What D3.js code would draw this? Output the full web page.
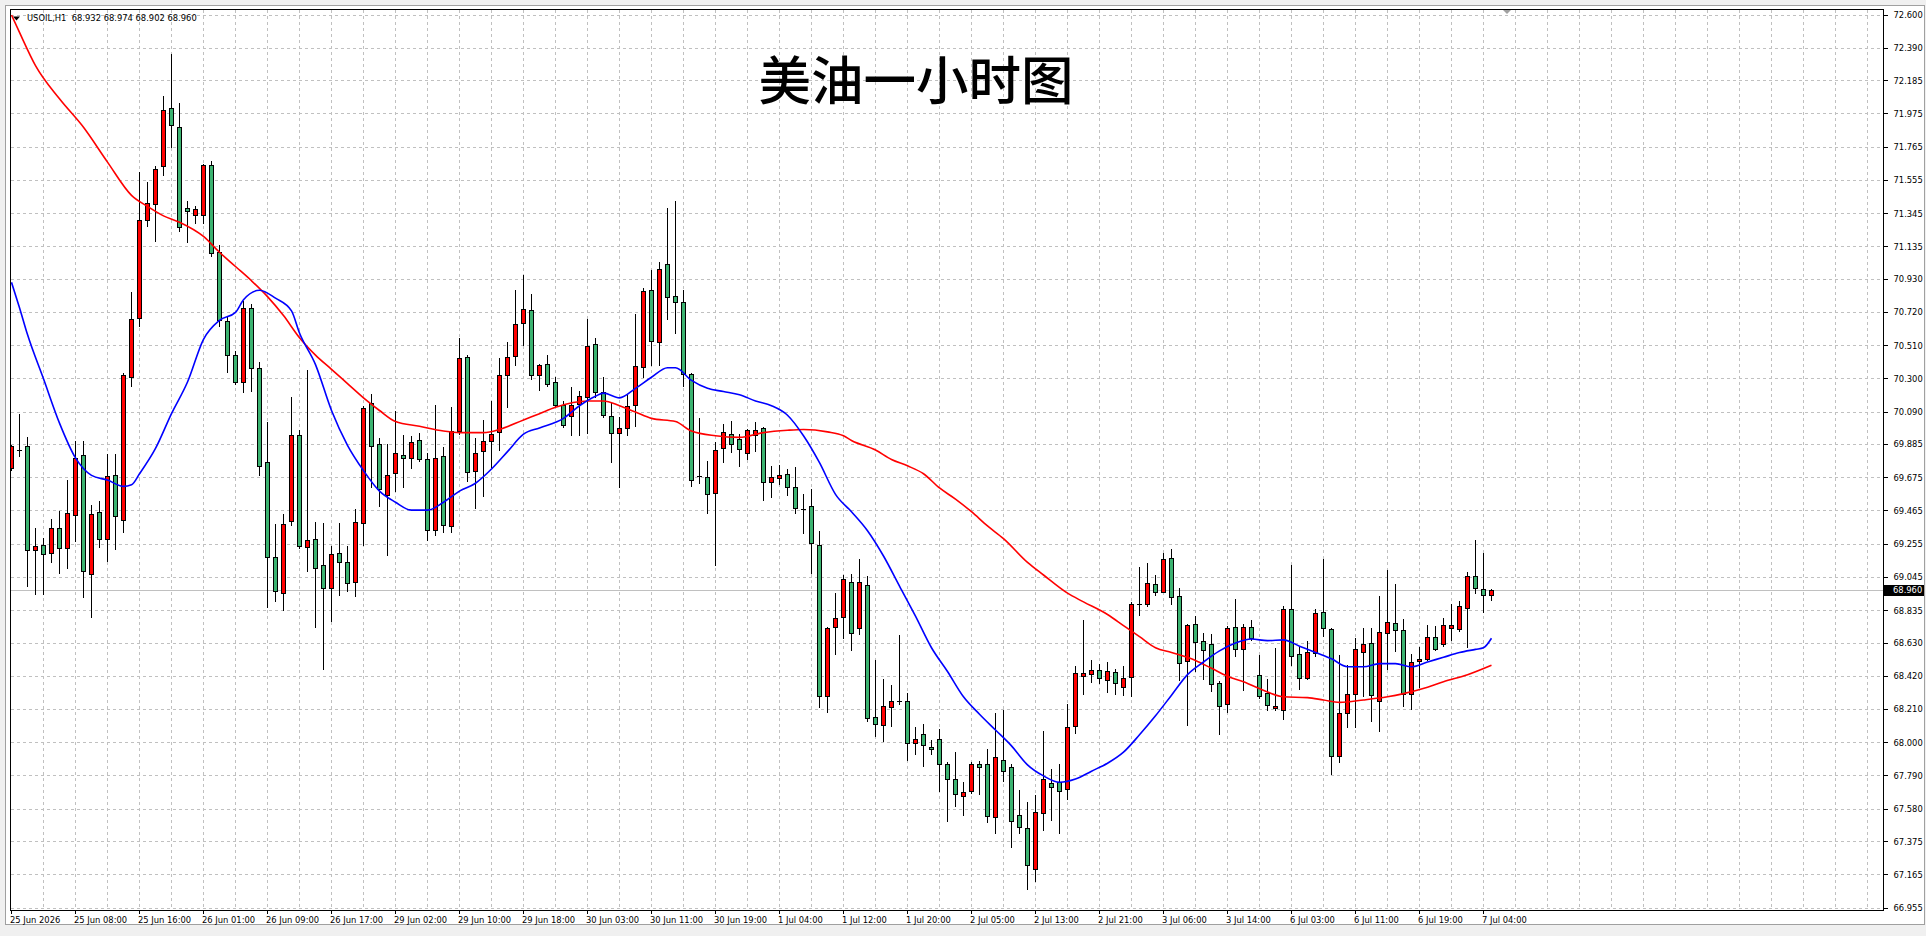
<!DOCTYPE html>
<html>
<head>
<meta charset="utf-8">
<script src="https://cdn.jsdelivr.net/npm/d3@7"></script>
<style>
  body { margin: 0; background: #f0f0f0; }
  #wrapper { width: 1926px; height: 936px; }
  .mt-text { font-family: "DejaVu Sans Condensed", "DejaVu Sans", sans-serif; font-stretch: condensed; font-size: 9.3px; }
</style>
</head>
<body>
<div id="wrapper"></div>
<script>
const symbolName = "USOIL,H1"
const chartTitle = "美油一小时图"

// hourly bars, 25 Jun 00:00 .. 7 Jul 05:00
const opens = [
  69.736, 69.850, 69.872, 69.215, 69.249, 69.199, 69.351, 69.226, 69.437, 69.815,
  69.063, 69.453, 69.285, 69.686, 69.403, 70.309, 70.682, 71.300, 71.402, 71.644,
  72.007, 71.887, 71.379, 71.334, 71.334, 71.647, 71.101, 70.664, 70.449, 70.279,
  70.746, 70.365, 69.770, 69.170, 68.946, 69.399, 69.945, 69.237, 69.287, 69.117,
  68.977, 69.199, 69.142, 69.015, 69.388, 70.141, 69.888, 69.561, 69.704, 69.818,
  69.799, 69.913, 69.788, 69.342, 69.806, 69.369, 69.969, 70.438, 69.713, 69.840,
  69.906, 69.958, 70.324, 70.444, 70.648, 70.732, 70.320, 70.388, 70.279, 70.134,
  70.060, 70.139, 70.184, 70.517, 70.211, 70.060, 69.953, 69.985, 70.132, 70.373,
  70.860, 70.532, 71.020, 70.820, 70.785, 70.329, 69.682, 69.676, 69.575, 69.859,
  69.949, 69.914, 69.830, 69.943, 69.987, 69.642, 69.673, 69.697, 69.613, 69.473,
  69.494, 69.247, 68.289, 68.725, 68.791, 69.015, 68.719, 68.992, 68.162, 68.109,
  68.225, 68.263, 68.261, 67.997, 68.052, 67.970, 68.018, 67.862, 67.767, 67.660,
  67.692, 67.862, 67.862, 67.527, 67.888, 67.843, 67.538, 67.458, 67.196, 67.555,
  67.740, 67.749, 67.706, 68.102, 68.418, 68.429, 68.456, 68.391, 68.444, 68.349,
  68.412, 68.872, 68.872, 69.002, 68.952, 69.167, 68.926, 68.513, 68.749, 68.642,
  68.619, 68.372, 68.244, 68.730, 68.591, 68.730, 68.423, 68.309, 68.218, 68.204,
  68.844, 68.560, 68.408, 68.566, 68.825, 68.713, 67.913, 68.187, 68.307, 68.572,
  68.629, 68.260, 68.692, 68.756, 68.707, 68.303, 68.513, 68.528, 68.667, 68.623,
  68.724, 68.718, 68.850, 69.051, 68.971, 68.932
]
const highs = [
  69.880, 70.080, 69.931, 69.360, 69.294, 69.414, 69.466, 69.663, 69.908, 69.908,
  69.505, 69.527, 69.822, 69.822, 70.336, 70.852, 71.606, 71.542, 71.644, 72.086,
  72.353, 72.041, 71.422, 71.395, 71.660, 71.674, 71.146, 70.693, 70.478, 70.795,
  70.773, 70.404, 70.026, 69.385, 69.445, 70.185, 69.974, 70.356, 69.395, 69.388,
  69.241, 69.388, 69.245, 69.477, 70.126, 70.206, 69.926, 69.890, 70.098, 69.947,
  69.936, 69.957, 69.833, 70.134, 69.867, 70.121, 70.558, 70.451, 69.924, 70.037,
  70.161, 70.433, 70.535, 70.863, 70.958, 70.834, 70.395, 70.449, 70.309, 70.161,
  70.247, 70.225, 70.678, 70.558, 70.309, 70.150, 70.060, 70.207, 70.709, 70.875,
  70.991, 71.040, 71.380, 71.423, 70.860, 70.338, 70.054, 69.781, 69.903, 70.016,
  70.033, 69.952, 69.981, 70.025, 69.996, 69.749, 69.758, 69.729, 69.740, 69.575,
  69.604, 69.337, 68.733, 68.945, 69.061, 69.067, 69.160, 69.053, 68.521, 68.400,
  68.362, 68.680, 68.311, 68.102, 68.117, 68.018, 68.086, 67.881, 67.944, 67.749,
  67.875, 67.885, 67.963, 68.187, 68.206, 67.864, 67.702, 67.622, 67.668, 68.075,
  67.833, 67.864, 68.244, 68.486, 68.775, 68.524, 68.497, 68.507, 68.465, 68.486,
  68.890, 69.108, 69.139, 69.061, 69.202, 69.226, 68.977, 68.751, 68.798, 68.692,
  68.686, 68.393, 68.735, 68.909, 68.749, 68.777, 68.555, 68.402, 68.598, 68.865,
  69.124, 68.608, 68.640, 68.844, 69.160, 68.724, 68.555, 68.492, 68.661, 68.728,
  68.728, 68.928, 69.093, 69.002, 68.783, 68.560, 68.608, 68.745, 68.739, 68.787,
  68.878, 68.893, 69.076, 69.282, 69.198, 68.974
]
const lows = [
  69.725, 69.810, 68.993, 68.943, 68.939, 69.143, 69.070, 69.104, 69.272, 68.921,
  68.796, 69.240, 69.149, 69.222, 69.335, 70.252, 70.632, 71.266, 71.169, 71.588,
  71.764, 71.237, 71.162, 71.282, 71.282, 71.078, 70.637, 70.343, 70.270, 70.218,
  70.223, 69.691, 68.860, 68.898, 68.841, 69.374, 69.228, 69.083, 68.729, 68.466,
  68.767, 68.931, 68.956, 68.925, 69.247, 69.614, 69.494, 69.184, 69.589, 69.614,
  69.736, 69.778, 69.283, 69.313, 69.335, 69.335, 69.950, 69.652, 69.482, 69.561,
  69.743, 69.849, 70.121, 70.388, 70.512, 70.302, 70.229, 70.252, 70.121, 69.998,
  69.946, 69.946, 69.958, 70.184, 70.060, 69.777, 69.618, 69.946, 70.003, 70.309,
  70.387, 70.387, 70.678, 70.590, 70.257, 69.624, 69.642, 69.453, 69.125, 69.772,
  69.839, 69.749, 69.793, 69.842, 69.537, 69.555, 69.636, 69.566, 69.450, 69.328,
  69.073, 68.225, 68.191, 68.559, 68.661, 68.588, 68.690, 68.138, 68.043, 68.008,
  68.105, 68.244, 67.892, 67.928, 67.854, 67.928, 67.692, 67.506, 67.601, 67.544,
  67.681, 67.675, 67.496, 67.432, 67.755, 67.342, 67.432, 67.078, 67.127, 67.449,
  67.513, 67.426, 67.643, 68.060, 68.307, 68.385, 68.376, 68.322, 68.307, 68.301,
  68.296, 68.808, 68.865, 68.935, 68.952, 68.876, 68.397, 68.113, 68.456, 68.402,
  68.328, 68.056, 68.191, 68.545, 68.334, 68.650, 68.282, 68.208, 68.204, 68.151,
  68.492, 68.338, 68.402, 68.545, 68.676, 67.803, 67.881, 68.098, 68.098, 68.296,
  68.140, 68.077, 68.465, 68.577, 68.235, 68.212, 68.355, 68.524, 68.587, 68.612,
  68.646, 68.703, 68.608, 68.945, 68.829, 68.902
]
const closes = [
  69.874, 69.850, 69.215, 69.242, 69.192, 69.351, 69.229, 69.446, 69.795, 69.082,
  69.441, 69.285, 69.681, 69.432, 70.320, 70.675, 71.302, 71.411, 71.626, 71.995,
  71.900, 71.259, 71.361, 71.373, 71.647, 71.094, 70.666, 70.449, 70.275, 70.746,
  70.365, 69.747, 69.172, 68.955, 69.382, 69.945, 69.243, 69.281, 69.104, 68.977,
  69.192, 69.142, 69.009, 69.395, 70.115, 69.875, 69.603, 69.692, 69.825, 69.799,
  69.900, 69.793, 69.340, 69.795, 69.376, 69.969, 70.429, 69.709, 69.826, 69.901,
  69.946, 70.324, 70.438, 70.641, 70.739, 70.320, 70.383, 70.263, 70.132, 70.003,
  70.134, 70.189, 70.506, 70.213, 70.066, 69.953, 69.985, 70.127, 70.381, 70.852,
  70.538, 70.994, 70.817, 70.785, 70.329, 69.656, 69.682, 69.572, 69.850, 69.958,
  69.888, 69.856, 69.972, 69.972, 69.642, 69.676, 69.688, 69.610, 69.482, 69.473,
  69.256, 68.292, 68.719, 68.783, 69.029, 68.690, 69.015, 68.153, 68.115, 68.231,
  68.263, 68.263, 67.997, 68.018, 67.982, 67.957, 67.862, 67.767, 67.673, 67.685,
  67.862, 67.843, 67.534, 67.906, 67.818, 67.502, 67.464, 67.224, 67.559, 67.770,
  67.717, 67.692, 68.096, 68.437, 68.437, 68.456, 68.406, 68.450, 68.374, 68.406,
  68.872, 68.872, 69.006, 68.952, 69.160, 68.920, 68.503, 68.743, 68.636, 68.583,
  68.370, 68.229, 68.724, 68.591, 68.730, 68.661, 68.292, 68.235, 68.231, 68.840,
  68.545, 68.408, 68.572, 68.819, 68.724, 67.913, 68.187, 68.307, 68.587, 68.623,
  68.296, 68.699, 68.762, 68.709, 68.307, 68.509, 68.528, 68.667, 68.591, 68.743,
  68.743, 68.861, 69.051, 68.977, 68.928, 68.960
]

// moving averages: [bar index, price]
const maFast = [
  [0, 70.91], [1, 70.75], [2, 70.58], [4, 70.30], [6, 70.02], [8, 69.80], [10, 69.69],
  [12, 69.66], [14, 69.62], [15, 69.63], [16, 69.70], [18, 69.86], [20, 70.08], [22, 70.28],
  [24, 70.55], [26, 70.67], [28, 70.72], [29, 70.80], [31, 70.86], [33, 70.81], [35, 70.73],
  [36, 70.59], [38, 70.39], [40, 70.10], [42, 69.88], [44, 69.72], [46, 69.59], [48, 69.52],
  [50, 69.47], [52, 69.47], [54, 69.52], [56, 69.59], [58, 69.64], [60, 69.73], [62, 69.84],
  [64, 69.95], [66, 69.99], [69, 70.05], [71, 70.13], [73, 70.19], [74, 70.21], [76, 70.18],
  [78, 70.24], [80, 70.31], [82, 70.37], [83, 70.37], [85, 70.29], [87, 70.24], [89, 70.22],
  [91, 70.20], [93, 70.16], [95, 70.13], [97, 70.07], [99, 69.94], [101, 69.77], [103, 69.57],
  [105, 69.46], [107, 69.34], [109, 69.18], [111, 68.99], [113, 68.80], [115, 68.60], [117, 68.45],
  [119, 68.29], [121, 68.18], [123, 68.08], [125, 67.98], [127, 67.86], [129, 67.79], [131, 67.75],
  [133, 67.77], [135, 67.82], [137, 67.87], [139, 67.94], [141, 68.05], [143, 68.17], [145, 68.30],
  [147, 68.43], [149, 68.51], [151, 68.58], [153, 68.63], [155, 68.655], [157, 68.645], [159, 68.65],
  [161, 68.61], [163, 68.57], [165, 68.53], [167, 68.48], [169, 68.48], [171, 68.50], [173, 68.50],
  [175, 68.48], [177, 68.51], [179, 68.54], [181, 68.57], [183, 68.59], [184, 68.60], [185, 68.66]
]
const maSlow = [
  [0, 72.60], [1, 72.49], [3, 72.28], [6, 72.07], [9, 71.89], [12, 71.67], [15, 71.46],
  [17, 71.39], [19, 71.33], [21, 71.29], [24, 71.20], [26, 71.10], [28, 71.01], [30, 70.92],
  [32, 70.82], [34, 70.70], [36, 70.56], [38, 70.45], [40, 70.36], [42, 70.27], [44, 70.18],
  [46, 70.10], [48, 70.03], [51, 70.00], [54, 69.97], [56, 69.96], [59, 69.96], [61, 69.98],
  [64, 70.04], [66, 70.08], [68, 70.12], [72, 70.16], [74, 70.16], [76, 70.13], [78, 70.09],
  [80, 70.05], [83, 70.03], [85, 69.97], [88, 69.94], [91, 69.93], [94, 69.96], [97, 69.975],
  [99, 69.98], [102, 69.965], [104, 69.94], [105, 69.91], [108, 69.85], [110, 69.79], [112, 69.75],
  [114, 69.70], [116, 69.61], [118, 69.54], [120, 69.46], [122, 69.37], [124, 69.29], [127, 69.14],
  [129, 69.06], [132, 68.945], [134, 68.89], [137, 68.81], [139, 68.74], [141, 68.67], [143, 68.60],
  [145, 68.57], [148, 68.52], [150, 68.47], [152, 68.42], [154, 68.385], [157, 68.32], [159, 68.29],
  [162, 68.285], [164, 68.27], [166, 68.255], [169, 68.27], [172, 68.29], [174, 68.31], [177, 68.35],
  [179, 68.385], [182, 68.43], [185, 68.49]
]

const priceTicks = [
  72.600, 72.390, 72.185, 71.975, 71.765, 71.555, 71.345, 71.135, 70.930, 70.720,
  70.510, 70.300, 70.090, 69.885, 69.675, 69.465, 69.255, 69.045, 68.835, 68.630,
  68.420, 68.210, 68.000, 67.790, 67.580, 67.375, 67.165, 66.955
]
// one label every 8 bars
const timeLabels = [
  "25 Jun 2026", "25 Jun 08:00", "25 Jun 16:00", "26 Jun 01:00", "26 Jun 09:00", "26 Jun 17:00",
  "29 Jun 02:00", "29 Jun 10:00", "29 Jun 18:00", "30 Jun 03:00", "30 Jun 11:00", "30 Jun 19:00",
  "1 Jul 04:00", "1 Jul 12:00", "1 Jul 20:00", "2 Jul 05:00", "2 Jul 13:00", "2 Jul 21:00",
  "3 Jul 06:00", "3 Jul 14:00", "6 Jul 03:00", "6 Jul 11:00", "6 Jul 19:00", "7 Jul 04:00"
]

async function drawChart() {
  const n = closes.length
  const last = n - 1
  const fmt = d3.format(".3f")
  const snap = v => Math.round(v - 0.5) + 0.5

  // window and plot box (the price scale sits right of the plot)
  const dimensions = {
    width: 1926,
    height: 936,
    plot: { left: 10.5, top: 9.5, right: 1883.5, bottom: 910.5 },
    barStep: 8,
    firstBarX: 11.5,
  }
  const plot = dimensions.plot

  const wrapper = d3.select("#wrapper")
    .append("svg")
      .attr("width", dimensions.width)
      .attr("height", dimensions.height)
      .style("display", "block")

  wrapper.append("rect")
      .attr("width", dimensions.width)
      .attr("height", dimensions.height)
      .attr("fill", "#f0f0f0")
  wrapper.append("rect")
      .attr("x", 5.5).attr("y", 5.5)
      .attr("width", 1919).attr("height", 919)
      .attr("fill", "#fff")
      .attr("stroke", "#a0a0a0")

  wrapper.append("defs").append("clipPath")
      .attr("id", "plot-clip")
    .append("rect")
      .attr("x", plot.left + 0.5)
      .attr("y", plot.top + 0.5)
      .attr("width", plot.right - plot.left - 1)
      .attr("height", plot.bottom - plot.top - 1)

  const xScale = d3.scaleLinear()
      .domain([0, last])
      .range([dimensions.firstBarX, dimensions.firstBarX + dimensions.barStep * last])
  const yScale = d3.scaleLinear()
      .domain(d3.extent(priceTicks))
      .range([908, 15])

  // dashed grid
  const grid = wrapper.append("g")
      .attr("stroke", "#c0c0c0")
      .attr("stroke-dasharray", "3,3")
      .attr("shape-rendering", "crispEdges")
  grid.selectAll(".grid-h")
    .data(priceTicks)
    .join("line")
      .attr("class", "grid-h")
      .attr("x1", plot.left).attr("x2", plot.right)
      .attr("y1", d => snap(yScale(d)))
      .attr("y2", d => snap(yScale(d)))
  const gridBars = d3.range(4, 400, 4).filter(b => xScale(b) < plot.right - 4)
  grid.selectAll(".grid-v")
    .data(gridBars)
    .join("line")
      .attr("class", "grid-v")
      .attr("x1", d => xScale(d)).attr("x2", d => xScale(d))
      .attr("y1", plot.top).attr("y2", plot.bottom)

  // current price line
  const lastY = snap(yScale(closes[last]))
  wrapper.append("line")
      .attr("x1", plot.left).attr("x2", plot.right)
      .attr("y1", lastY).attr("y2", lastY)
      .attr("stroke", "#c0c0c0")
      .attr("shape-rendering", "crispEdges")

  // title
  wrapper.append("text")
      .attr("x", 916)
      .attr("y", 99.6)
      .attr("text-anchor", "middle")
      .style("font-family", '"Noto Sans CJK SC", sans-serif')
      .style("font-size", "52.5px")
      .style("font-weight", 500)
      .attr("fill", "#000")
      .text(chartTitle)

  // candles: red = up, green = down
  const bounds = wrapper.append("g")
      .attr("clip-path", "url(#plot-clip)")
  const candles = bounds.selectAll("g")
    .data(d3.range(n))
    .join("g")
      .attr("shape-rendering", "crispEdges")
  candles.append("line")
      .attr("x1", i => xScale(i)).attr("x2", i => xScale(i))
      .attr("y1", i => Math.round(yScale(highs[i])))
      .attr("y2", i => Math.round(yScale(lows[i])) + 1)
      .attr("stroke", "#000")
  candles.each(function (i) {
    const g = d3.select(this)
    const cx = xScale(i)
    const top = snap(yScale(Math.max(opens[i], closes[i])))
    const bottom = snap(yScale(Math.min(opens[i], closes[i])))
    if (bottom - top < 1) {
      g.append("line")
          .attr("x1", cx - 2.5).attr("x2", cx + 2.5)
          .attr("y1", top).attr("y2", top)
          .attr("stroke", "#000")
    } else {
      g.append("rect")
          .attr("x", cx - 2)
          .attr("y", top)
          .attr("width", 4)
          .attr("height", bottom - top)
          .attr("fill", closes[i] >= opens[i] ? "#ff0000" : "#3cb371")
          .attr("stroke", "#000")
    }
  })

  // moving averages
  const maLine = d3.line()
      .x(d => xScale(d[0]))
      .y(d => yScale(d[1]))
      .curve(d3.curveMonotoneX)
  bounds.append("path")
      .attr("d", maLine(maSlow))
      .attr("fill", "none")
      .attr("stroke", "#ff0000")
      .attr("stroke-width", 1.6)
  bounds.append("path")
      .attr("d", maLine(maFast))
      .attr("fill", "none")
      .attr("stroke", "#0000ff")
      .attr("stroke-width", 1.6)

  // header: symbol and last bar OHLC, drawn over the lines
  wrapper.append("path")
      .attr("d", "M13,16.5 L20,16.5 L16.5,20.5 Z")
      .attr("fill", "#000")
  wrapper.append("text")
      .attr("class", "mt-text")
      .attr("x", 27)
      .attr("y", 21)
      .style("white-space", "pre")
      .attr("fill", "#000")
      .text(`${symbolName}  ${fmt(opens[last])} ${fmt(highs[last])} ${fmt(lows[last])} ${fmt(closes[last])}`)

  // price scale on the right
  const yAxisGenerator = d3.axisRight(yScale)
      .tickValues(priceTicks)
      .tickFormat(fmt)
      .tickSize(4)
      .tickPadding(6)
      .offset(0)
  const yAxis = wrapper.append("g")
      .attr("transform", `translate(${plot.right}, 0)`)
      .call(yAxisGenerator)
  yAxis.select(".domain").remove()
  yAxis.attr("font-size", null).attr("font-family", null)
  yAxis.selectAll("line").attr("shape-rendering", "crispEdges")
  yAxis.selectAll("text").attr("class", "mt-text")

  // time scale at the bottom
  const xAxisGenerator = d3.axisBottom(xScale)
      .tickValues(d3.range(0, n, 8))
      .tickFormat((d, i) => timeLabels[i])
      .tickSize(4)
      .tickPadding(2)
      .offset(0)
  const xAxis = wrapper.append("g")
      .attr("transform", `translate(0, ${plot.bottom - 0.5})`)
      .call(xAxisGenerator)
  xAxis.select(".domain").remove()
  xAxis.attr("font-size", null).attr("font-family", null)
  xAxis.selectAll("line").attr("shape-rendering", "crispEdges")
  xAxis.selectAll("text")
      .attr("class", "mt-text")
      .attr("text-anchor", "start")
      .attr("x", -1.5)

  // plot frame
  wrapper.append("rect")
      .attr("x", plot.left).attr("y", plot.top)
      .attr("width", plot.right - plot.left)
      .attr("height", plot.bottom - plot.top)
      .attr("fill", "none")
      .attr("stroke", "#000")
      .attr("shape-rendering", "crispEdges")

  // last price tag
  wrapper.append("rect")
      .attr("x", plot.right + 0.5)
      .attr("y", lastY - 5.5)
      .attr("width", 40)
      .attr("height", 11)
      .attr("fill", "#000")
  wrapper.append("text")
      .attr("class", "mt-text")
      .attr("x", plot.right + 9.5)
      .attr("y", lastY)
      .attr("dy", "0.32em")
      .attr("fill", "#fff")
      .text(fmt(closes[last]))

  // chart shift marker
  wrapper.append("path")
      .attr("d", "M1503,10 L1511,10 L1507,14 Z")
      .attr("fill", "#a0a0a0")
}
drawChart()
</script>
</body>
</html>
